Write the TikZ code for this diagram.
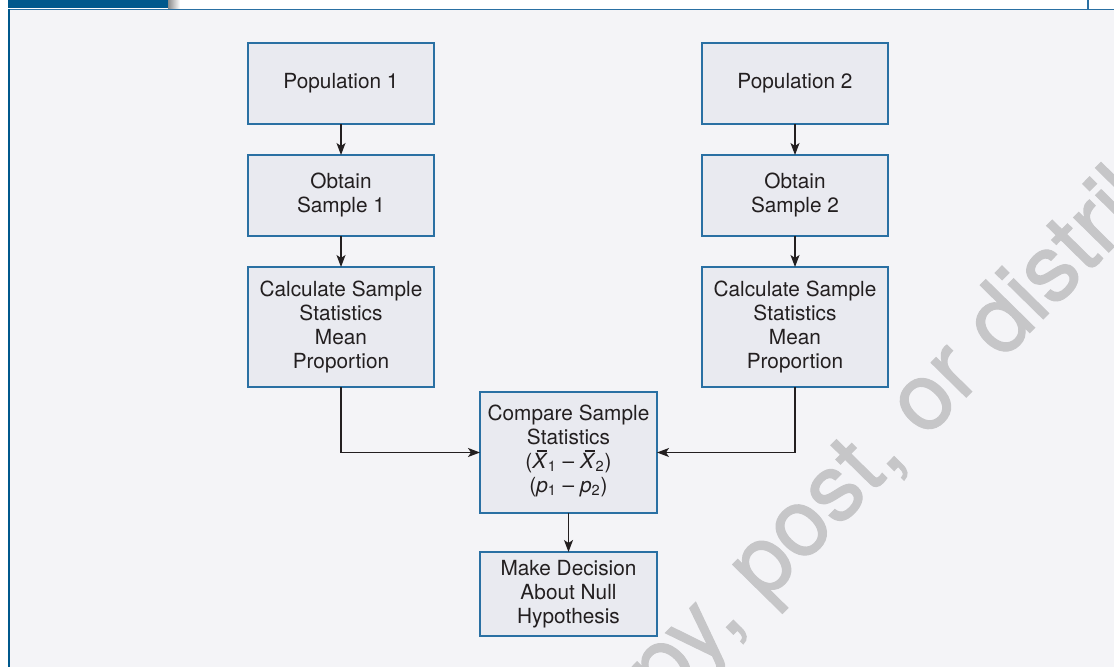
\documentclass[tikz,border=0pt]{standalone}
\usepackage{fontspec}
\setmainfont{TeX Gyre Heros}
\usetikzlibrary{positioning,arrows.meta}
\definecolor{boxblue}{RGB}{42,112,163}
\definecolor{boxfill}{RGB}{233,234,240}
\definecolor{panelbg}{RGB}{244,244,247}
\definecolor{tabblue}{RGB}{0,88,140}
\definecolor{ink}{RGB}{35,31,32}
\definecolor{wmgray}{RGB}{198,198,200}
\newcommand{\xbar}{\rlap{\hspace{0.22em}\raisebox{0.8em}{\rule{0.5em}{0.06em}}}\textit{X}}
\begin{document}
\begin{tikzpicture}[x=0.5pt,y=-0.5pt,
	main node/.style = {rectangle,draw=boxblue,fill=boxfill,line width=0.75pt,text=ink,outer sep=0pt,
		align=center,inner sep=0pt,minimum width=93pt,font=\fontsize{10.4}{12}\selectfont},
	wm/.style = {text=wmgray,inner sep=0pt,font=\fontsize{47}{47}\selectfont\addfontfeature{FakeBold=1.2}},
	flow/.style = {draw=ink,line width=0.6pt,-{Stealth[length=6pt,width=4.5pt,inset=1.5pt]}}]
	
	\useasboundingbox (0,0) rectangle (1114,667);
	\fill[white] (0,0) rectangle (1114,667);
	\fill[panelbg] (9,10) rectangle (1114,667);
	\fill[tabblue] (8,0) rectangle (168,8.5);
	\shade[left color=black!45,right color=white] (168,0) rectangle (180,8.5);
	\draw[boxblue,line width=0.6pt] (1088,0) -- (1088,9.5);
	\draw[boxblue,line width=0.75pt] (8,9.5) -- (1114,9.5);
	\draw[tabblue,line width=1pt] (9,9) -- (9,667);
	
	\begin{scope}
	\clip (10,11) rectangle (1114,667);
	\node[wm,anchor=base west,rotate=45.5] (9) at (764,603) {\llap{Do not copy,\ }post, or distribute};
	\end{scope}
	
	\node[main node,minimum height=40.5pt] (1) at (341,83.5) {Population 1};
	\node[main node,minimum height=40.5pt] [below=15.5pt of 1] (2) {Obtain\\Sample 1};
	\node[main node,minimum height=60pt] [below=15.5pt of 2] (3) {Calculate Sample\\Statistics\\Mean\\Proportion};
	\node[main node,minimum height=40.5pt] [right=134pt of 1] (4) {Population 2};
	\node[main node,minimum height=40.5pt] [below=15.5pt of 4] (5) {Obtain\\Sample 2};
	\node[main node,minimum height=60pt] [below=15.5pt of 5] (6) {Calculate Sample\\Statistics\\Mean\\Proportion};
	\node[main node,minimum width=88.5pt,minimum height=60.5pt] (7) at (568.5,452.5)
		{Compare Sample\\Statistics\\(\xbar\textsubscript{1} – \xbar\textsubscript{2})\\(\textit{p}\textsubscript{1} – \textit{p}\textsubscript{2})\\[-8pt]};
	\node[main node,minimum width=88.5pt,minimum height=42pt] [below=19.5pt of 7] (8) {Make Decision\\About Null\\Hypothesis};
	
	\path (1) edge [flow] (2);
	\path (2) edge [flow] (3);
	\path (4) edge [flow] (5);
	\path (5) edge [flow] (6);
	\draw[flow] (3) |- (7);
	\draw[flow] (6) |- (7);
	\path (7) edge [flow] (8);
	
\end{tikzpicture}
\end{document}
